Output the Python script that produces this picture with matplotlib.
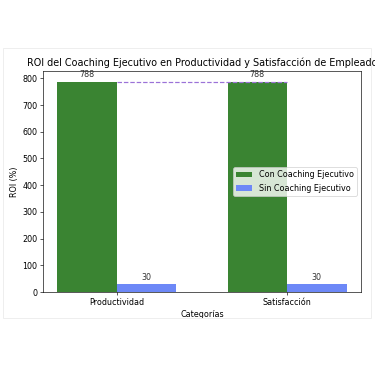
import numpy as np
import matplotlib.pyplot as plt
from matplotlib.patches import Rectangle

plt.switch_backend('Agg')

# --- 데이터 ---
categorias = ["Productividad", "Satisfacción"]
con_coaching = [788, 788]
sin_coaching = [30, 30]

DPI = 58
fig = plt.figure(figsize=(375 / DPI, 366 / DPI), dpi=DPI, facecolor='white')

# 흐릿한 사진 테두리
fig.patches.append(Rectangle((0.008, 0.13), 0.98, 0.74, transform=fig.transFigure,
                             fill=False, edgecolor='#eeeeee', linewidth=1.2))

ax = fig.add_axes([43 / 375, 1 - 292 / 366, 318 / 375, 221 / 366])

x = np.arange(len(categorias))
width = 0.35
b1 = ax.bar(x - width / 2, con_coaching, width, color='#3a8432', label='Con Coaching Ejecutivo')
b2 = ax.bar(x + width / 2, sin_coaching, width, color='#6d88f7', label='Sin Coaching Ejecutivo')

ax.plot(x, con_coaching, linestyle='--', color='#9b72d8', linewidth=1.5)

for bars in (b1, b2):
    for bar in bars:
        ax.text(bar.get_x() + bar.get_width() / 2, bar.get_height() + 8,
                f"{int(bar.get_height())}", ha='center', va='bottom', color='#333333')

ax.set_xticks(x)
ax.set_xticklabels(categorias)
ax.set_xlabel("Categorías")
ax.set_ylabel("ROI (%)")
ax.set_title("ROI del Coaching Ejecutivo en Productividad y Satisfacción de Empleados",
             loc='left', x=-0.05, pad=6)
ax.legend(loc='center right')

fig.savefig("out.png", dpi=DPI, facecolor='white')
